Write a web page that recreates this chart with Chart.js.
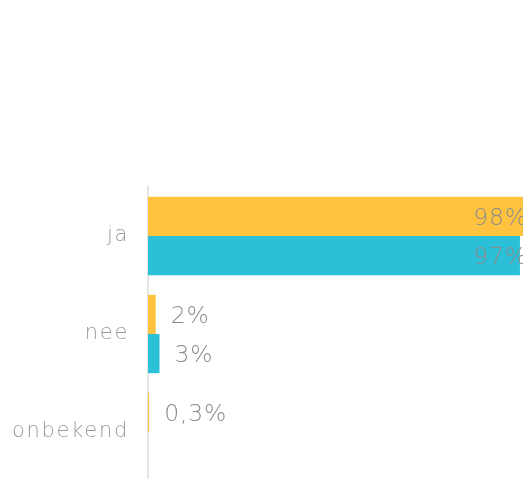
<!DOCTYPE html>
<html>
<head>
<meta charset="utf-8">
<script src="https://cdn.jsdelivr.net/npm/chart.js@4"></script>
<style>
  html, body { margin: 0; padding: 0; background: #fff; overflow: hidden; }
  #wrap { position: relative; width: 523px; height: 481px; }
</style>
</head>
<body>
<div id="wrap"><canvas id="c"></canvas></div>
<script>
const categories = ['ja', 'nee', 'onbekend'];
const seriesA = [98, 2, 0.3];
const seriesB = [97, 3, 0];
const labelsA = ['98%', '2%', '0,3%'];
const labelsB = ['97%', '3%', ''];

const FONT = '"DejaVu Sans", "Lato", sans-serif';

// slightly wider tracking for the category names
const tracking = {
  id: 'tracking',
  beforeDraw(chart) { chart.ctx.letterSpacing = '1.7px'; },
  afterDraw(chart) { chart.ctx.letterSpacing = '0px'; }
};

// value labels placed just past the end of each bar, kept inside the canvas
const valueLabels = {
  id: 'valueLabels',
  afterDatasetsDraw(chart) {
    const ctx = chart.ctx;
    ctx.save();
    ctx.letterSpacing = '0.8px';
    ctx.font = '200 23.5px ' + FONT;
    ctx.fillStyle = '#8c8c8c';
    ctx.textBaseline = 'middle';
    ctx.textAlign = 'left';
    const texts = [labelsA, labelsB];
    chart.data.datasets.forEach((ds, di) => {
      chart.getDatasetMeta(di).data.forEach((bar, i) => {
        const t = texts[di][i];
        if (!t) return;
        const w = ctx.measureText(t).width;
        const x = Math.min(bar.x + 15, 528 - w);
        ctx.fillText(t, x, bar.y + 2);
      });
    });
    ctx.restore();
  }
};

new Chart(document.getElementById('c'), {
  type: 'bar',
  data: {
    labels: categories,
    datasets: [
      { data: seriesA, backgroundColor: '#FFC33F', borderWidth: 0 },
      { data: seriesB, backgroundColor: '#2BBFD8', borderWidth: 0 }
    ]
  },
  options: {
    indexAxis: 'y',
    responsive: true,
    maintainAspectRatio: false,
    animation: false,
    layout: { padding: { top: 187, left: 0, right: 0, bottom: 0 } },
    datasets: { bar: { categoryPercentage: 0.8, barPercentage: 1.0 } },
    plugins: { legend: { display: false }, tooltip: { enabled: false } },
    scales: {
      x: { display: false, min: 0, max: 97.8 },
      y: {
        afterFit(scale) {
          scale.width = 148;
          scale.paddingTop = 0;
          scale.paddingBottom = 0;
        },
        grid: { display: false, drawTicks: false },
        border: { display: true, color: '#e5e5e5', width: 2 },
        ticks: {
          padding: 19,
          color: '#9a9a9a',
          font: { family: FONT, size: 21, weight: '200' }
        }
      }
    }
  },
  plugins: [tracking, valueLabels]
});
</script>
</body>
</html>
